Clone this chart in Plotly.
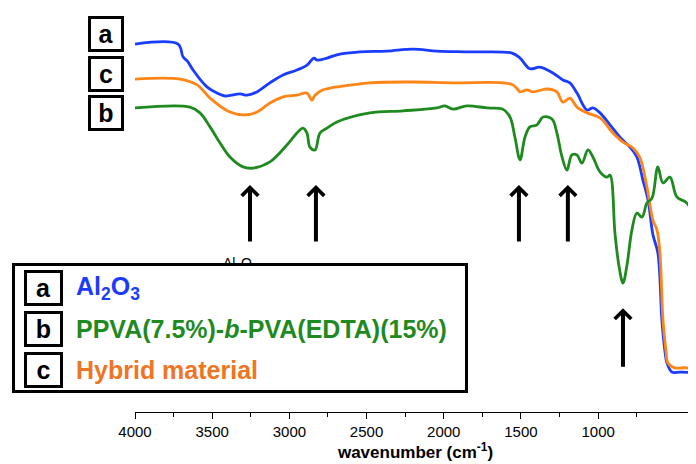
import plotly.graph_objects as go

# ---------------- data ----------------
wn_a = [4000, 3721, 3689, 3657, 3624, 3534, 3469, 3417, 3320, 3275, 3210, 3126, 3041, 2951, 2886,
        2841, 2821, 2756, 2692, 2543, 2368, 2199, 2044, 1830, 1558, 1506, 1442, 1377, 1293, 1228,
        1183, 1137, 1072, 1034, 988, 923, 859, 794, 749, 710, 677, 645, 613, 587, 568, 554, 522,
        470, 386, 366]
t_a = [89.3, 89.3, 86.2, 85.0, 83.0, 78.9, 77.4, 76.7, 77.2, 76.9, 77.7, 79.9, 81.8, 83.0, 84.2,
       85.9, 85.4, 85.9, 86.7, 87.4, 87.6, 88.1, 87.6, 87.4, 87.1, 85.9, 83.3, 83.7, 82.3, 80.6,
       79.9, 77.4, 73.3, 73.8, 72.6, 69.7, 66.7, 64.3, 61.9, 56.3, 51.5, 43.0, 38.6, 22.3, 15.0,
       11.9, 9.7, 9.7, 9.5, 9.2]

wn_c = [4000, 3709, 3598, 3514, 3385, 3288, 3210, 3126, 3041, 2951, 2886, 2854, 2834, 2782, 2737,
        2692, 2478, 2199, 1940, 1617, 1552, 1519, 1506, 1461, 1422, 1332, 1267, 1228, 1183, 1137,
        1072, 988, 904, 839, 774, 729, 684, 645, 619, 600, 580, 561, 548, 503, 425, 366]
t_c = [80.8, 80.8, 79.4, 76.2, 72.8, 72.1, 72.8, 75.0, 76.5, 76.9, 77.4, 75.7, 76.9, 78.2, 78.6,
       78.9, 79.9, 80.1, 79.9, 79.9, 79.4, 78.2, 77.7, 78.2, 77.7, 78.4, 77.7, 75.2, 76.2, 74.0,
       72.6, 71.4, 67.7, 65.5, 64.1, 61.7, 54.6, 46.5, 44.2, 38.6, 22.3, 15.0, 11.9, 10.7, 10.7, 9.7]

wn_b = [4000, 3644, 3579, 3514, 3449, 3385, 3300, 3236, 3126, 3016, 2951, 2912, 2886, 2867, 2834,
        2802, 2756, 2692, 2478, 2264, 2044, 1992, 1940, 1850, 1720, 1617, 1571, 1539, 1506, 1474,
        1442, 1396, 1357, 1299, 1267, 1234, 1202, 1170, 1137, 1105, 1066, 1034, 988, 943, 923,
        891, 866, 839, 813, 781, 749, 716, 684, 651, 613, 580, 535, 490, 425, 366]
t_b = [73.8, 74.0, 72.6, 69.2, 65.3, 61.9, 59.5, 59.2, 60.7, 64.8, 67.7, 68.9, 67.7, 64.3, 63.6,
       67.7, 68.9, 70.4, 72.6, 73.1, 73.8, 74.3, 73.5, 74.3, 73.8, 73.5, 71.6, 66.7, 61.2, 66.7,
       69.2, 69.7, 71.6, 71.1, 67.7, 61.9, 58.7, 62.4, 62.4, 60.4, 63.6, 61.9, 58.3, 57.0, 57.5,
       43.4, 35.7, 31.3, 35.7, 44.2, 48.3, 47.3, 50.7, 51.9, 59.5, 55.6, 57.0, 52.2, 50.7, 46.1]

arrow_wn = [3255, 2828, 1513, 1196, 839]
arrow_t = [55.1, 55.1, 55.1, 55.1, 25.2]

major_ticks = [4000, 3500, 3000, 2500, 2000, 1500, 1000]
minor_ticks = [3750, 3250, 2750, 2250, 1750, 1250, 750]

BLUE = "#1a3cff"
ORANGE = "#ff8517"
GREEN = "#1f8a1f"
FONT = "Arial, Liberation Sans, sans-serif"

OFF = 8                      # page body margin
W, H = 696 - OFF, 464 - OFF
ML, MB = 127, H - 404
PW, PH = W - ML, 404


def px(xs):
    return (xs - OFF - ML) / PW


def py(ys):
    return (PH - (ys - OFF)) / PH


fig = go.Figure()
for wn, t, col in [(wn_a, t_a, BLUE), (wn_c, t_c, ORANGE), (wn_b, t_b, GREEN)]:
    fig.add_trace(go.Scatter(x=wn, y=t, mode="lines", line=dict(color=col, width=2.8),
                             line_shape="spline", showlegend=False, hoverinfo="skip"))

ann = []
# arrows
for w_, t_, L in zip(arrow_wn, arrow_t, [58, 58, 58, 58, 60]):
    ann.append(dict(x=w_, y=t_, xref="x", yref="y", ax=0, ay=L, showarrow=True,
                    arrowhead=4, arrowsize=0.8, arrowwidth=4, arrowcolor="black", text=""))

# boxed labels near curves
for letter, cy in [("a", 34), ("c", 73.5), ("b", 113)]:
    ann.append(dict(x=px(105.5), y=py(cy), xref="paper", yref="paper", showarrow=False,
                    xanchor="center", yanchor="middle",
                    text="<b>%s</b>" % letter, font=dict(family=FONT, size=25, color="black"),
                    width=28, height=28, borderpad=1, borderwidth=3, bordercolor="black",
                    bgcolor="white", align="center", valign="middle"))

# partially hidden label behind the legend box
ann.append(dict(x=px(240), y=py(264), xref="paper", yref="paper", showarrow=False,
                xanchor="center", yanchor="middle",
                text="Al<sub>2</sub>O<sub>3</sub>", font=dict(family=FONT, size=14, color="black")))

# legend box
ann.append(dict(x=px(240), y=py(328), xref="paper", yref="paper", showarrow=False,
                xanchor="center", yanchor="middle",
                text=" ", width=450, height=124, borderpad=0, borderwidth=3,
                bordercolor="black", bgcolor="white"))

# legend entries
leg = [("a", 288, "Al<sub>2</sub>O<sub>3</sub>", BLUE),
       ("b", 329, "PPVA(7.5%)-<i>b</i>-PVA(EDTA)(15%)", GREEN),
       ("c", 369.5, "Hybrid material", "#ee7524")]
for letter, cy, txt, col in leg:
    ann.append(dict(x=px(43), y=py(cy), xref="paper", yref="paper", showarrow=False,
                    xanchor="center", yanchor="middle",
                    text="<b>%s</b>" % letter, font=dict(family=FONT, size=25, color="black"),
                    width=31, height=28, borderpad=1, borderwidth=3, bordercolor="black",
                    bgcolor="white"))
    ann.append(dict(x=px(74), y=py(cy), xref="paper", yref="paper", showarrow=False,
                    xanchor="left", yanchor="middle", text="<b>%s</b>" % txt,
                    font=dict(family=FONT, size=25, color=col)))

fig.update_layout(
    width=W, height=H, margin=dict(l=ML, r=0, t=0, b=MB, autoexpand=False),
    plot_bgcolor="white", paper_bgcolor="white",
    annotations=ann,
    xaxis=dict(range=[4000, 366], tickmode="array", tickvals=major_ticks,
               ticktext=[str(v) for v in major_ticks], ticks="outside", ticklen=6,
               tickwidth=1.2, tickcolor="black", showline=True, linecolor="black",
               linewidth=1.2, showgrid=False, zeroline=False, automargin=False,
               tickfont=dict(family=FONT, size=15, color="black"),
               minor=dict(tickmode="array", tickvals=minor_ticks, ticks="outside",
                          ticklen=4, tickcolor="black", tickwidth=1.2, showgrid=False),
               title=dict(text="<b>wavenumber (cm<sup>-1</sup>)</b>", standoff=4,
                          font=dict(family=FONT, size=17, color="black"))),
    yaxis=dict(range=[0, PH / 4.12], visible=False, showgrid=False, zeroline=False),
)

fig.write_html("out.html")
